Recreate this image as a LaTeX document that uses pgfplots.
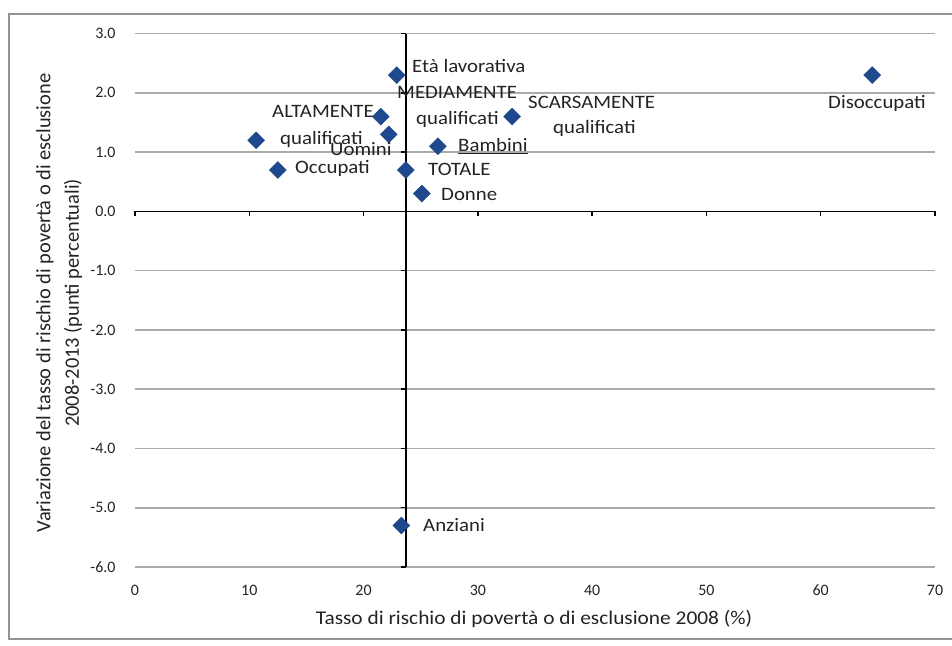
\documentclass[border=0pt]{standalone}
\usepackage{fontspec}
\setmainfont{Carlito}
\newfontfamily\hfont[FakeStretch=1.1]{Carlito}
\usepackage{pgfplots}
\pgfplotsset{compat=1.18}
\definecolor{mk}{RGB}{31,73,140}
\definecolor{txt}{RGB}{35,35,35}
\definecolor{grd}{RGB}{170,170,170}
\newcommand{\lab}[3]{\node[anchor=base west,inner sep=0pt,text=txt,font=\hfont\fontsize{19}{22}\selectfont] at ({(#1-135)*1bp},{(567-#2)*1bp}) {#3};}
\begin{document}
\begin{tikzpicture}
\begin{axis}[
  at={(0,0)}, anchor=south west,
  scale only axis, width=800bp, height=533.4bp,
  xmin=0, xmax=70, ymin=-6, ymax=3,
  xtick={0,10,20,30,40,50,60,70}, ytick={-6,-5,-4,-3,-2,-1,0,1,2,3},
  axis x line*=bottom, axis y line*=left,
  axis line style={draw=none},
  major tick length=0pt,
  ymajorgrids, grid style={color=grd, line width=1.6bp},
  tick label style={font=\fontsize{16}{18}\selectfont, text=txt},
  /pgf/number format/assume math mode=true,
  yticklabel={\pgfmathprintnumber[fixed,fixed zerofill,precision=1]{\tick}},
  xticklabel style={anchor=center, yshift=-23bp},
  yticklabel style={anchor=east, xshift=-16bp},
  clip=false,
]
\draw[black, line width=1.8bp] (axis cs:0,0) -- (axis cs:70,0);
\draw[black, line width=1.8bp] (axis cs:23.7,-6) -- (axis cs:23.7,3);
\pgfplotsinvokeforeach{0,10,20,30,40,50,60,70}{\draw[black, line width=1.5bp] (axis cs:#1,0) -- ++(0bp,-5bp);}
\pgfplotsinvokeforeach{-6,-5,-4,-3,-2,-1,0,1,2,3}{\draw[black, line width=1.5bp] (axis cs:23.7,#1) -- ++(-5bp,0bp);}
\addplot[only marks, mark=square*, mark size=6bp, mark options={rotate=45, fill=mk, draw=mk}] coordinates {
(10.6,1.2) (12.5,0.7) (21.5,1.6) (22.2,1.3) (22.9,2.3) (23.7,0.7)
(23.3,-5.3) (25.1,0.3) (26.5,1.1) (33.0,1.6) (64.5,2.3)
};
\end{axis}
\lab{412}{73}{Età lavorativa}
\lab{397}{99}{MEDIAMENTE}
\lab{416}{125}{qualificati}
\lab{528}{109}{SCARSAMENTE}
\lab{553}{134}{qualificati}
\lab{272}{118}{ALTAMENTE}
\lab{280}{145}{qualificati}
\lab{330}{156}{Uomini}
\lab{295}{174}{Occupati}
\lab{458}{152}{\underline{Bambini}}
\lab{428}{176}{TOTALE}
\lab{441}{200}{Donne}
\lab{828}{109}{Disoccupati}
\lab{423}{531}{Anziani}
\node[anchor=base,inner sep=0pt,text=txt,font=\hfont\fontsize{19.5}{22}\selectfont] at ({(534-135)*1bp},{(567-624)*1bp}) {Tasso di rischio di povertà o di esclusione 2008 (\%)};
\node[rotate=90,anchor=center,inner sep=0pt,text=txt,font=\fontsize{20.5}{22}\selectfont] at ({(45-135)*1bp},{(567-303)*1bp}) {Variazione del tasso di rischio di povertà o di esclusione};
\node[rotate=90,anchor=center,inner sep=0pt,text=txt,font=\fontsize{20.5}{22}\selectfont] at ({(73-135)*1bp},{(567-303)*1bp}) {2008-2013 (punti percentuali)};
\draw[color=gray!85, line width=1.5bp] ({(9-135)*1bp},{(567-14)*1bp}) rectangle ({(960-135)*1bp},{(567-639)*1bp});
\pgfresetboundingbox
\path[use as bounding box] ({-135bp},{-79bp}) rectangle ({817bp},{567bp});
\end{tikzpicture}
\end{document}
